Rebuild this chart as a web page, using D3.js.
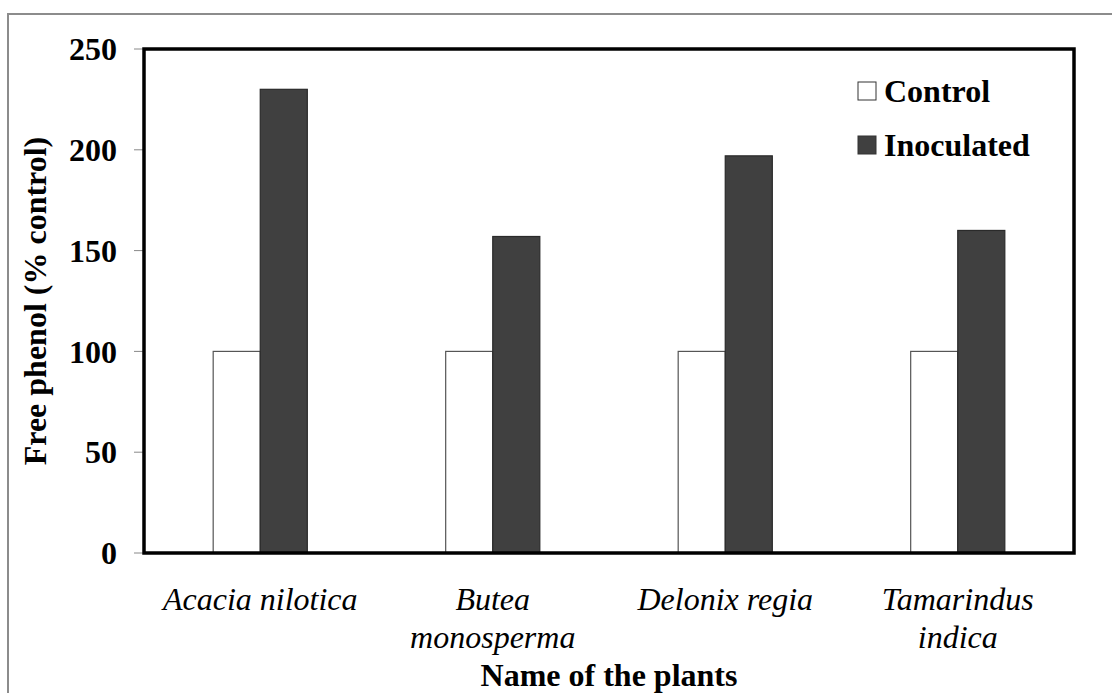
<!DOCTYPE html>
<html>
<head>
<meta charset="utf-8">
<script src="https://cdn.jsdelivr.net/npm/d3@7"></script>
<style>
  body { margin: 0; background: #fff; }
  svg text { font-family: "Liberation Serif", "Times New Roman", serif; }
</style>
</head>
<body>
<div id="chart"></div>
<script>
const plants = ["Acacia nilotica", "Butea monosperma", "Delonix regia", "Tamarindus indica"];
const plantLines = [["Acacia nilotica"], ["Butea", "monosperma"], ["Delonix regia"], ["Tamarindus", "indica"]];
const seriesNames = ["Control", "Inoculated"];
const controlValues = [100, 100, 100, 100];
const inoculatedValues = [230, 157, 197, 160];
const yTicks = [0, 50, 100, 150, 200, 250];

const seriesFill = { Control: "#ffffff", Inoculated: "#404040" };

const W = 1112, H = 693;
const plot = { left: 144, right: 1074, top: 49, bottom: 553 };

const svg = d3.select("#chart")
  .append("svg")
  .attr("width", W)
  .attr("height", H);

// outer chart frame (runs off the right/bottom of the picture)
svg.append("rect")
  .attr("x", 8)
  .attr("y", 14)
  .attr("width", W)
  .attr("height", H)
  .attr("fill", "none")
  .attr("stroke", "#8c8c8c")
  .attr("stroke-width", 2);

const x = d3.scaleBand()
  .domain(plants)
  .range([plot.left, plot.right]);

const inner = d3.scaleBand()
  .domain(seriesNames)
  .range([0, x.bandwidth()])
  .paddingOuter(1.47)
  .paddingInner(0);

const y = d3.scaleLinear()
  .domain([0, 250])
  .range([plot.bottom, plot.top]);

const rows = plants.map((p, i) => ({
  plant: p,
  values: [
    { series: "Control", value: controlValues[i] },
    { series: "Inoculated", value: inoculatedValues[i] }
  ]
}));

// bars
const groups = svg.append("g")
  .selectAll("g")
  .data(rows)
  .join("g")
  .attr("transform", d => `translate(${x(d.plant)},0)`);

groups.selectAll("rect")
  .data(d => d.values)
  .join("rect")
  .attr("x", d => inner(d.series))
  .attr("width", inner.bandwidth())
  .attr("y", d => y(d.value))
  .attr("height", d => y(0) - y(d.value))
  .attr("fill", d => seriesFill[d.series])
  .attr("stroke", d => d.series === "Control" ? "#555" : "#2a2a2a")
  .attr("stroke-width", 1.2);

// y ticks
const yAxis = svg.append("g");
yAxis.selectAll("line")
  .data(yTicks)
  .join("line")
  .attr("x1", plot.left - 10)
  .attr("x2", plot.left)
  .attr("y1", d => y(d))
  .attr("y2", d => y(d))
  .attr("stroke", "#888")
  .attr("stroke-width", 1);

yAxis.selectAll("text")
  .data(yTicks)
  .join("text")
  .attr("x", 117)
  .attr("y", d => y(d))
  .attr("dy", "0.35em")
  .attr("text-anchor", "end")
  .attr("font-size", 32)
  .attr("font-weight", "bold")
  .text(d => d);

// plot frame
svg.append("rect")
  .attr("x", plot.left)
  .attr("y", plot.top)
  .attr("width", plot.right - plot.left)
  .attr("height", plot.bottom - plot.top)
  .attr("fill", "none")
  .attr("stroke", "#000")
  .attr("stroke-width", 3.5);

// category labels
const catLabels = svg.append("g")
  .selectAll("text")
  .data(plants)
  .join("text")
  .attr("x", d => x(d) + x.bandwidth() / 2)
  .attr("y", 610)
  .attr("text-anchor", "middle")
  .attr("font-size", 32)
  .attr("font-style", "italic");

catLabels.each(function (d, i) {
  d3.select(this)
    .selectAll("tspan")
    .data(plantLines[i])
    .join("tspan")
    .attr("x", x(d) + x.bandwidth() / 2)
    .attr("dy", (t, j) => j === 0 ? 0 : 38)
    .text(t => t);
});

// axis titles
svg.append("text")
  .attr("x", (plot.left + plot.right) / 2)
  .attr("y", 686)
  .attr("text-anchor", "middle")
  .attr("font-size", 32)
  .attr("font-weight", "bold")
  .text("Name of the plants");

svg.append("text")
  .attr("transform", `translate(46,${(plot.top + plot.bottom) / 2}) rotate(-90)`)
  .attr("text-anchor", "middle")
  .attr("font-size", 32)
  .attr("font-weight", "bold")
  .text("Free phenol (% control)");

// legend
const legend = svg.append("g")
  .selectAll("g")
  .data(seriesNames)
  .join("g")
  .attr("transform", (d, i) => `translate(858,${82 + i * 54})`);

legend.append("rect")
  .attr("width", 18)
  .attr("height", 18)
  .attr("fill", d => seriesFill[d])
  .attr("stroke", "#333")
  .attr("stroke-width", 1);

legend.append("text")
  .attr("x", 26)
  .attr("y", 9)
  .attr("dy", "0.35em")
  .attr("font-size", 32)
  .attr("font-weight", "bold")
  .text(d => d);
</script>
</body>
</html>
